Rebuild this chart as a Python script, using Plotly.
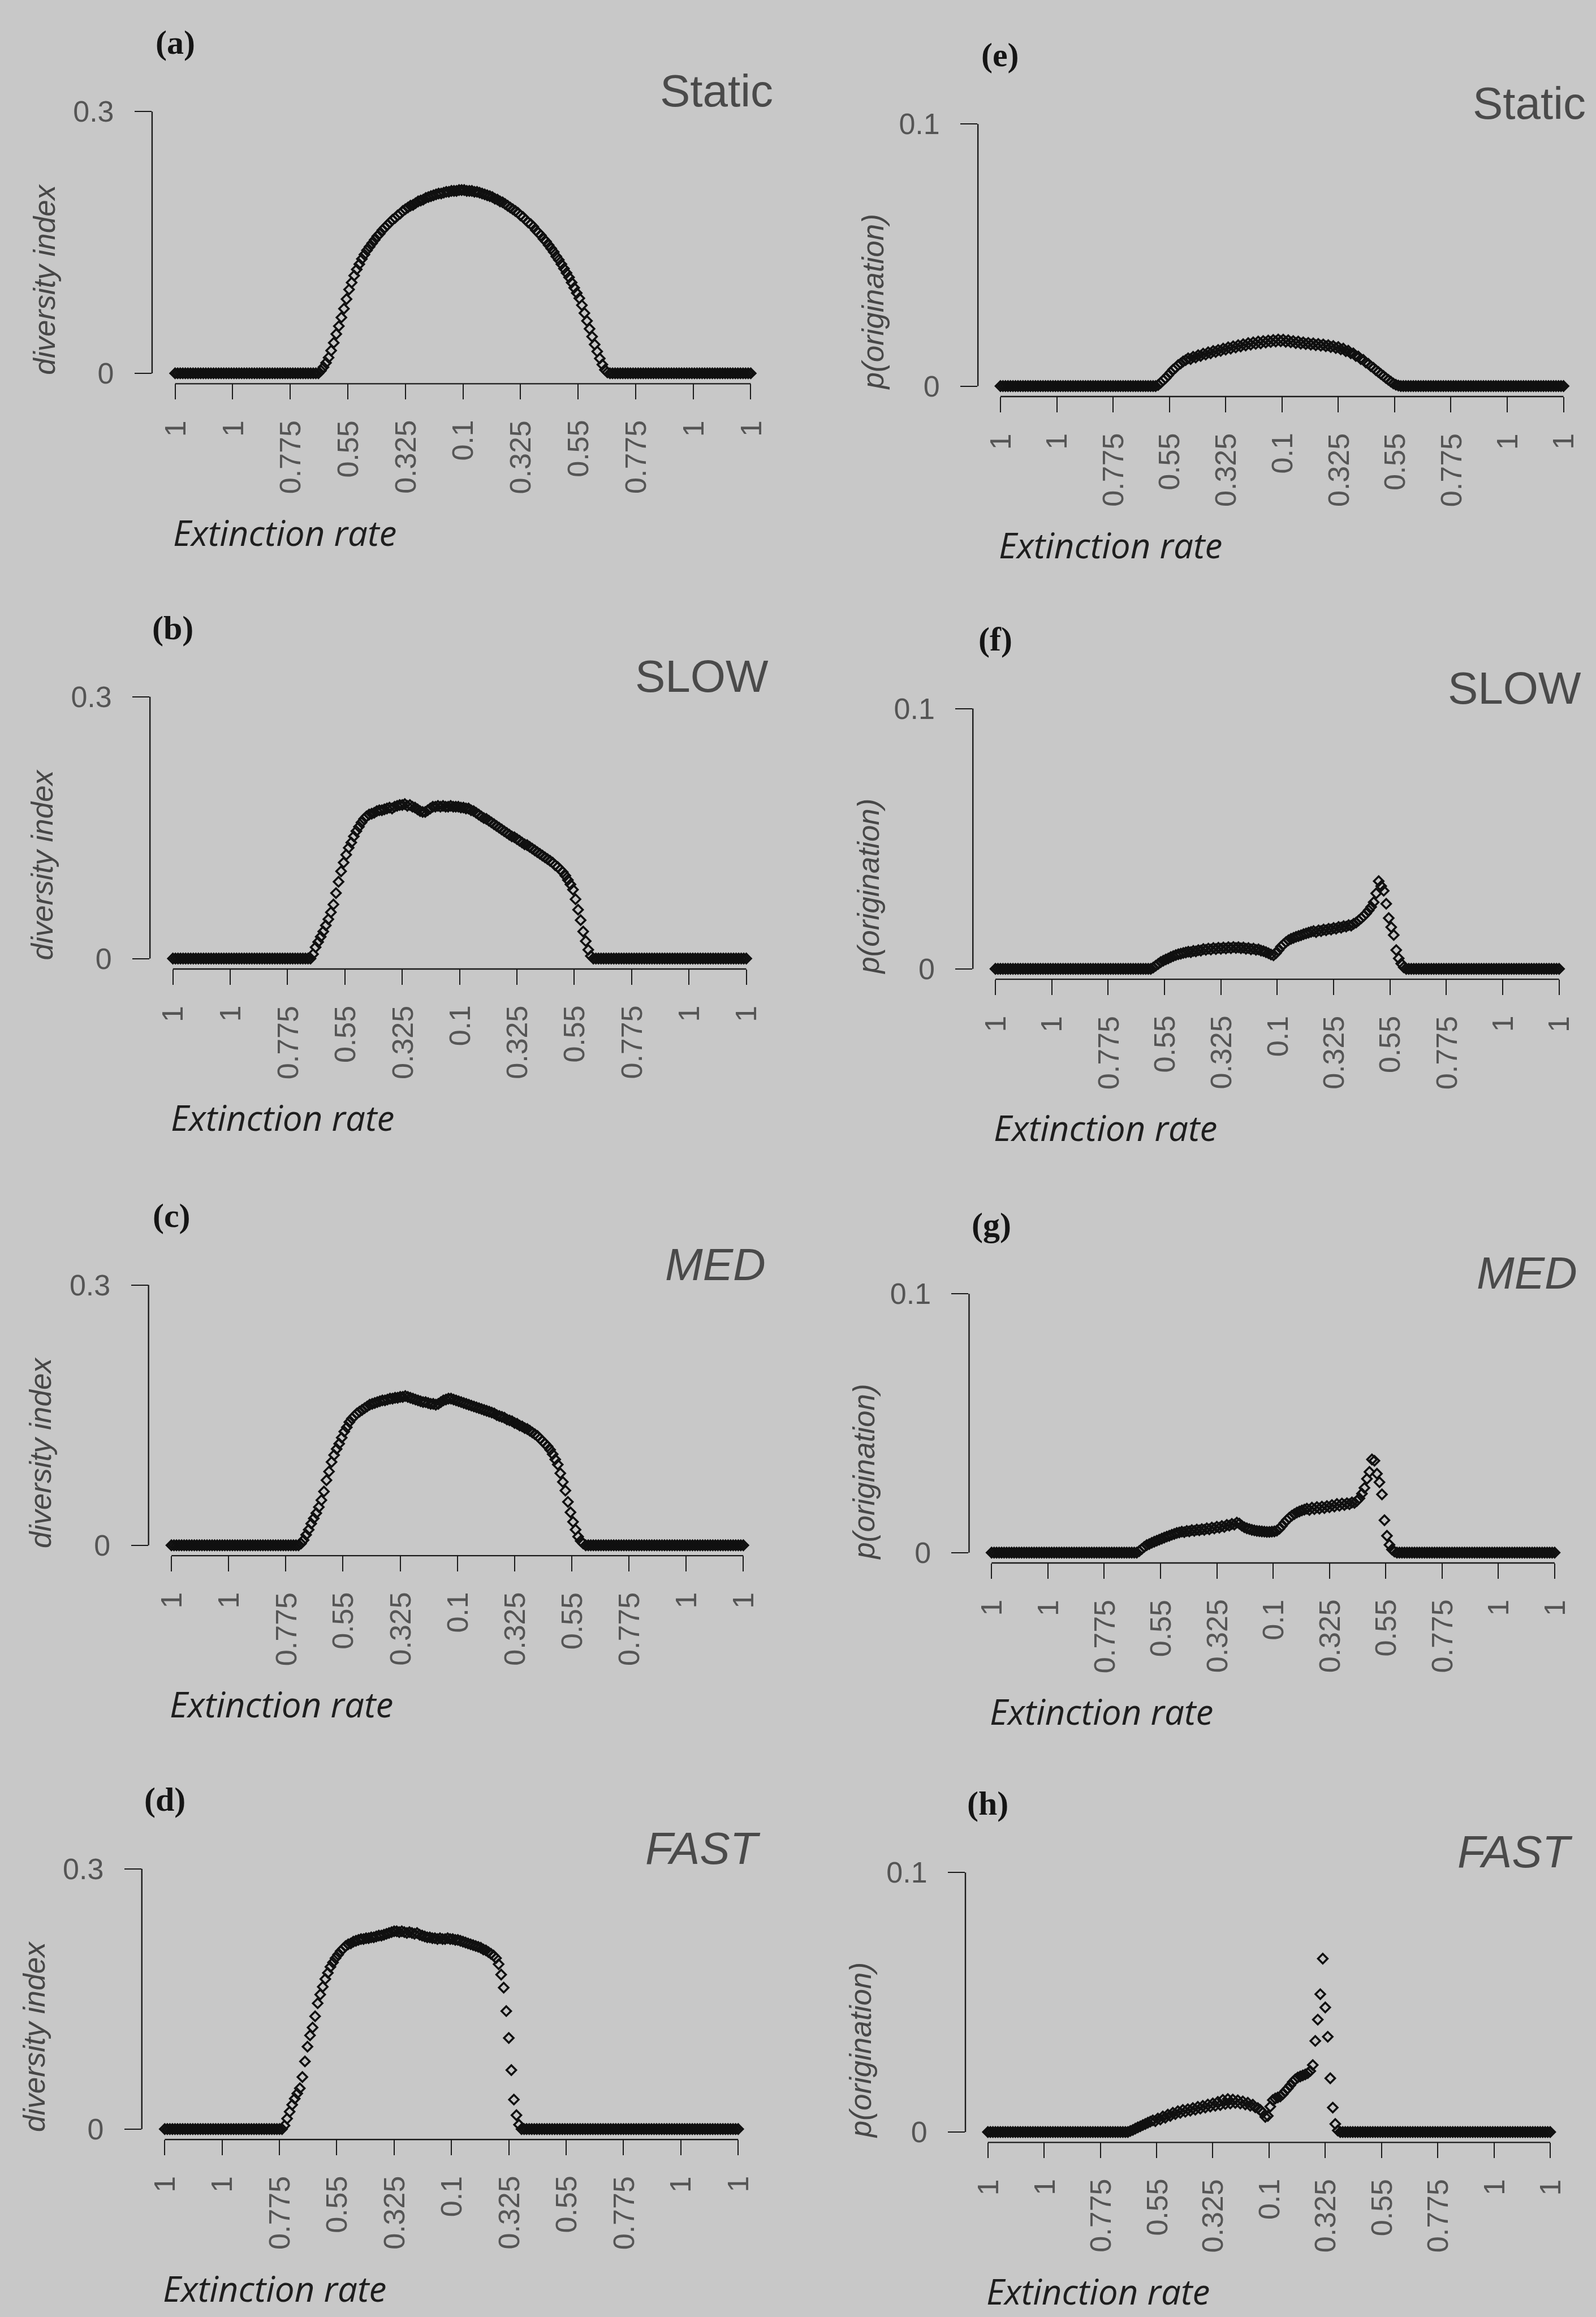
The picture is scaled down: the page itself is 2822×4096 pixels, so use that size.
import plotly.graph_objects as go

# ---------------- data ----------------
tick_positions = [0, 22.5, 45, 67.5, 90, 112.5, 135, 157.5, 180, 202.5, 225]
tick_labels = ["1", "1", "0.775", "0.55", "0.325", "0.1", "0.325", "0.55", "0.775", "1", "1"]
div_ticks = [0, 0.3]
div_tick_labels = ["0", "0.3"]
orig_ticks = [0, 0.1]
orig_tick_labels = ["0", "0.1"]

# (a) diversity index, Static
static_div = [
    0,0,0,0,0,0,0,0,0,0, 0,0,0,0,0,0,0,0,0,0, 0,0,0,0,0,0,0,0,0,0,
    0,0,0,0,0,0,0,0,0,0, 0,0,0,0,0,0,0,0,0,0, 0,0,0,0,0,0,0,
    0.003,0.007,0.012,0.018,0.026,0.035,0.045,0.054,0.064,0.074,
    0.085,0.096,0.104,0.112,0.119,0.125,0.131,0.136,0.141,0.145,
    0.149,0.153,0.157,0.160,0.164,0.167,0.170,0.173,0.176,0.178,
    0.181,0.183,0.186,0.188,0.190,0.192,0.193,0.195,0.197,0.198,
    0.199,0.201,0.202,0.203,0.204,0.205,0.206,0.206,0.207,0.208,
    0.208,0.209,0.209,0.209,0.210,0.210,0.210,0.209,0.209,0.209,
    0.208,0.208,0.207,0.206,0.205,0.204,0.203,0.202,0.200,0.199,
    0.197,0.196,0.194,0.192,0.190,0.188,0.186,0.184,0.181,0.179,
    0.176,0.173,0.171,0.168,0.164,0.161,0.158,0.154,0.151,0.147,
    0.143,0.139,0.134,0.130,0.125,0.120,0.115,0.110,0.104,0.098,
    0.092,0.086,0.078,0.069,0.060,0.051,0.042,0.033,0.025,0.017,
    0.010,0.004,0.001,
    0,0,0,0,0,0,0,0,0,0, 0,0,0,0,0,0,0,0,0,0, 0,0,0,0,0,0,0,0,0,0,
    0,0,0,0,0,0,0,0,0,0, 0,0,0,0,0,0,0,0,0,0, 0,0,0,0,0,0,
]

# (b) diversity index, SLOW
slow_div = [
    0,0,0,0,0,0,0,0,0,0, 0,0,0,0,0,0,0,0,0,0, 0,0,0,0,0,0,0,0,0,0,
    0,0,0,0,0,0,0,0,0,0, 0,0,0,0,0,0,0,0,0,0, 0,0,0,0,0,
    0.005,0.013,0.019,0.025,0.031,0.038,0.045,0.053,0.062,0.075,
    0.088,0.100,0.110,0.119,0.127,0.133,0.140,0.146,0.151,0.156,
    0.160,0.163,0.165,0.166,0.167,0.169,0.170,0.170,0.171,0.172,
    0.173,0.172,0.174,0.175,0.176,0.176,0.177,0.175,0.176,0.174,
    0.173,0.171,0.169,0.168,0.168,0.170,0.172,0.174,0.174,0.175,
    0.174,0.175,0.174,0.174,0.175,0.174,0.174,0.174,0.173,0.173,
    0.172,0.172,0.170,0.169,0.167,0.165,0.163,0.161,0.160,0.158,
    0.156,0.154,0.152,0.150,0.148,0.146,0.144,0.142,0.140,0.139,
    0.137,0.135,0.133,0.131,0.130,0.128,0.126,0.124,0.122,0.120,
    0.118,0.116,0.114,0.112,0.110,0.107,0.105,0.102,0.099,0.095,
    0.090,0.085,0.079,0.068,0.056,0.044,0.031,0.020,0.010,0.003,
    0,0,0,0,0,0,0,0,0,0, 0,0,0,0,0,0,0,0,0,0, 0,0,0,0,0,0,0,0,0,0,
    0,0,0,0,0,0,0,0,0,0, 0,0,0,0,0,0,0,0,0,0, 0,0,0,0,0,0,0,0,0,0,
    0,
]

# (c) diversity index, MED
med_div = [
    0,0,0,0,0,0,0,0,0,0, 0,0,0,0,0,0,0,0,0,0, 0,0,0,0,0,0,0,0,0,0,
    0,0,0,0,0,0,0,0,0,0, 0,0,0,0,0,0,0,0,0,0, 0,
    0.002,0.006,0.012,0.018,0.025,0.031,0.037,0.044,0.052,0.062,
    0.075,0.085,0.096,0.104,0.111,0.117,0.124,0.131,0.136,0.142,
    0.146,0.149,0.152,0.154,0.156,0.158,0.160,0.162,0.163,0.164,
    0.165,0.166,0.167,0.167,0.168,0.169,0.169,0.170,0.170,0.171,
    0.171,0.172,0.171,0.170,0.169,0.168,0.167,0.166,0.165,0.165,
    0.164,0.163,0.163,0.162,0.163,0.165,0.167,0.168,0.169,0.169,
    0.168,0.167,0.166,0.165,0.164,0.163,0.162,0.161,0.160,0.159,
    0.158,0.157,0.156,0.155,0.154,0.153,0.152,0.150,0.149,0.148,
    0.147,0.145,0.144,0.143,0.141,0.140,0.138,0.137,0.135,0.134,
    0.132,0.130,0.128,0.126,0.123,0.120,0.117,0.114,0.110,0.105,
    0.099,0.093,0.083,0.073,0.063,0.050,0.038,0.027,0.018,0.010,
    0.005,0.002,
    0,0,0,0,0,0,0,0,0,0, 0,0,0,0,0,0,0,0,0,0, 0,0,0,0,0,0,0,0,0,0,
    0,0,0,0,0,0,0,0,0,0, 0,0,0,0,0,0,0,0,0,0, 0,0,0,0,0,0,0,0,0,0,
    0,0,0,
]

# (d) diversity index, FAST
fast_div = [
    0,0,0,0,0,0,0,0,0,0, 0,0,0,0,0,0,0,0,0,0, 0,0,0,0,0,0,0,0,0,0,
    0,0,0,0,0,0,0,0,0,0, 0,0,0,0,0,0,0,
    0.004,0.012,0.020,0.028,0.035,0.041,0.047,0.060,0.078,0.095,
    0.108,0.117,0.130,0.145,0.155,0.164,0.173,0.180,0.187,0.192,
    0.197,0.201,0.205,0.208,0.211,0.213,0.214,0.216,0.217,0.218,
    0.219,0.219,0.220,0.220,0.221,0.221,0.222,0.223,0.223,0.224,
    0.225,0.226,0.227,0.228,0.228,0.227,0.228,0.227,0.226,0.227,
    0.226,0.225,0.226,0.224,0.223,0.222,0.221,0.221,0.220,0.220,
    0.219,0.220,0.219,0.219,0.220,0.219,0.219,0.218,0.218,0.217,
    0.216,0.215,0.214,0.213,0.212,0.211,0.210,0.209,0.207,0.206,
    0.204,0.202,0.200,0.197,0.190,0.178,0.163,0.136,0.105,0.068,
    0.034,0.016,0.005,
    0,0,0,0,0,0,0,0,0,0, 0,0,0,0,0,0,0,0,0,0, 0,0,0,0,0,0,0,0,0,0,
    0,0,0,0,0,0,0,0,0,0, 0,0,0,0,0,0,0,0,0,0, 0,0,0,0,0,0,0,0,0,0,
    0,0,0,0,0,0,0,0,0,0, 0,0,0,0,0,0,0,0,0,0, 0,0,0,0,0,0,
]

# (e) p(origination), Static
static_orig = [
    0,0,0,0,0,0,0,0,0,0, 0,0,0,0,0,0,0,0,0,0, 0,0,0,0,0,0,0,0,0,0,
    0,0,0,0,0,0,0,0,0,0, 0,0,0,0,0,0,0,0,0,0, 0,0,0,0,0,0,0,0,0,0,
    0,0,0,
    0.0004,0.0012,0.0022,0.0030,0.0041,0.0052,0.0063,0.0070,0.0080,0.0086,
    0.0094,0.0099,0.0106,0.0103,0.0112,0.0109,0.0118,0.0115,0.0124,0.0120,
    0.0129,0.0125,0.0134,0.0130,0.0138,0.0134,0.0143,0.0139,0.0148,0.0143,
    0.0152,0.0147,0.0156,0.0151,0.0160,0.0155,0.0164,0.0158,0.0167,0.0161,
    0.0170,0.0163,0.0172,0.0166,0.0174,0.0168,0.0176,0.0170,0.0178,0.0171,
    0.0177,0.0169,0.0175,0.0167,0.0172,0.0164,0.0170,0.0162,0.0167,0.0160,
    0.0165,0.0158,0.0163,0.0156,0.0161,0.0154,0.0159,0.0152,0.0156,0.0149,
    0.0153,0.0145,0.0149,0.0140,0.0143,0.0133,0.0135,0.0125,0.0125,0.0115,
    0.0113,0.0103,0.0100,0.0090,0.0085,0.0076,0.0070,0.0061,0.0054,0.0046,
    0.0039,0.0031,0.0024,0.0017,0.0010,0.0005,0.0002,
    0,0,0,0,0,0,0,0,0,0, 0,0,0,0,0,0,0,0,0,0, 0,0,0,0,0,0,0,0,0,0,
    0,0,0,0,0,0,0,0,0,0, 0,0,0,0,0,0,0,0,0,0, 0,0,0,0,0,0,0,0,0,0,
    0,0,0,0,0,0,
]

# (f) p(origination), SLOW
slow_orig = [
    0,0,0,0,0,0,0,0,0,0, 0,0,0,0,0,0,0,0,0,0, 0,0,0,0,0,0,0,0,0,0,
    0,0,0,0,0,0,0,0,0,0, 0,0,0,0,0,0,0,0,0,0, 0,0,0,0,0,0,0,0,0,0,
    0,0,0,
    0.0005,0.0012,0.0019,0.0026,0.0031,0.0036,0.0040,0.0045,0.0049,0.0053,
    0.0056,0.0058,0.0061,0.0063,0.0066,0.0064,0.0069,0.0067,0.0072,0.0070,
    0.0076,0.0073,0.0078,0.0074,0.0080,0.0076,0.0081,0.0077,0.0082,0.0078,
    0.0083,0.0079,0.0084,0.0080,0.0083,0.0079,0.0082,0.0077,0.0080,0.0075,
    0.0078,0.0073,0.0075,0.0070,0.0068,0.0064,0.0060,0.0055,0.0052,0.0060,
    0.0072,0.0085,0.0094,0.0103,0.0110,0.0115,0.0119,0.0123,0.0126,0.0129,
    0.0133,0.0136,0.0139,0.0142,0.0145,0.0141,0.0148,0.0145,0.0151,0.0148,
    0.0154,0.0151,0.0157,0.0154,0.0161,0.0158,0.0164,0.0162,0.0168,0.0166,
    0.0173,0.0178,0.0186,0.0194,0.0203,0.0213,0.0225,0.0238,0.0256,0.0290,
    0.0337,0.0318,0.0300,0.0250,0.0195,0.0160,0.0130,0.0072,0.0040,0.0020,
    0.0006,
    0,0,0,0,0,0,0,0,0,0, 0,0,0,0,0,0,0,0,0,0, 0,0,0,0,0,0,0,0,0,0,
    0,0,0,0,0,0,0,0,0,0, 0,0,0,0,0,0,0,0,0,0, 0,0,0,0,0,0,0,0,0,0,
    0,0,
]

# (g) p(origination), MED
med_orig = [
    0,0,0,0,0,0,0,0,0,0, 0,0,0,0,0,0,0,0,0,0, 0,0,0,0,0,0,0,0,0,0,
    0,0,0,0,0,0,0,0,0,0, 0,0,0,0,0,0,0,0,0,0, 0,0,0,0,0,0,0,0,0,
    0.0006,0.0014,0.0022,0.0029,0.0033,0.0038,0.0042,0.0046,0.0050,0.0054,
    0.0058,0.0062,0.0065,0.0069,0.0072,0.0076,0.0078,0.0081,0.0079,0.0084,
    0.0082,0.0087,0.0084,0.0089,0.0086,0.0091,0.0088,0.0094,0.0090,0.0097,
    0.0093,0.0100,0.0096,0.0103,0.0099,0.0107,0.0104,0.0111,0.0108,0.0116,
    0.0112,0.0104,0.0098,0.0094,0.0091,0.0088,0.0086,0.0084,0.0083,0.0082,
    0.0081,0.0080,0.0080,0.0081,0.0082,0.0085,0.0092,0.0103,0.0115,0.0126,
    0.0135,0.0143,0.0149,0.0155,0.0159,0.0163,0.0166,0.0170,0.0165,0.0174,
    0.0168,0.0176,0.0170,0.0178,0.0172,0.0180,0.0175,0.0184,0.0178,0.0188,
    0.0181,0.0190,0.0184,0.0191,0.0187,0.0194,0.0192,0.0200,0.0210,0.0228,
    0.0250,0.0285,0.0312,0.0360,0.0355,0.0305,0.0272,0.0225,0.0125,0.0065,
    0.0030,0.0012,0.0004,
    0,0,0,0,0,0,0,0,0,0, 0,0,0,0,0,0,0,0,0,0, 0,0,0,0,0,0,0,0,0,0,
    0,0,0,0,0,0,0,0,0,0, 0,0,0,0,0,0,0,0,0,0, 0,0,0,0,0,0,0,0,0,0,
    0,0,0,0,
]

# (h) p(origination), FAST
fast_orig = [
    0,0,0,0,0,0,0,0,0,0, 0,0,0,0,0,0,0,0,0,0, 0,0,0,0,0,0,0,0,0,0,
    0,0,0,0,0,0,0,0,0,0, 0,0,0,0,0,0,0,0,0,0, 0,0,0,0,0,0,0,
    0.0004,0.0008,0.0013,0.0018,0.0022,0.0027,0.0031,0.0036,0.0040,0.0045,
    0.0042,0.0052,0.0048,0.0060,0.0055,0.0067,0.0062,0.0074,0.0069,0.0080,
    0.0074,0.0085,0.0078,0.0088,0.0082,0.0092,0.0086,0.0097,0.0090,0.0101,
    0.0094,0.0106,0.0098,0.0110,0.0101,0.0116,0.0104,0.0124,0.0108,0.0127,
    0.0110,0.0125,0.0112,0.0122,0.0110,0.0118,0.0106,0.0113,0.0101,0.0105,
    0.0095,0.0092,0.0085,0.0074,0.0058,0.0062,0.0098,0.0123,0.0129,0.0133,
    0.0137,0.0146,0.0158,0.0168,0.0180,0.0193,0.0203,0.0210,0.0214,0.0218,
    0.0222,0.0227,0.0235,0.0258,0.0351,0.0433,0.0531,0.0668,0.0480,0.0367,
    0.0207,0.0094,0.0031,0.0006,
    0,0,0,0,0,0,0,0,0,0, 0,0,0,0,0,0,0,0,0,0, 0,0,0,0,0,0,0,0,0,0,
    0,0,0,0,0,0,0,0,0,0, 0,0,0,0,0,0,0,0,0,0, 0,0,0,0,0,0,0,0,0,0,
    0,0,0,0,0,0,0,0,0,0, 0,0,0,0,0,0,0,0,0,0, 0,0,0,0,0,
]

panel_letters = ["(a)", "(b)", "(c)", "(d)", "(e)", "(f)", "(g)", "(h)"]
scenario_names = ["Static", "SLOW", "MED", "FAST"]
scenario_italic = [False, False, True, True]
div_series = [static_div, slow_div, med_div, fast_div]
orig_series = [static_orig, slow_orig, med_orig, fast_orig]

# ---------------- layout geometry ----------------
W, H = 2822, 4096
S = 2822 / 1080  # preview px -> output px

def X(v):
    return v * S / W

def Y(v):
    return 1 - v * S / H

# (first tick x, last tick x, top tick y, zero y) in preview px
geom_left = [(118.5, 508, 72, 250), (117, 505, 470, 648),
             (116, 503, 870, 1047), (111.5, 499.5, 1267, 1444)]
geom_right = [(677, 1058, 80.5, 258.7), (673.6, 1055, 478, 655),
              (671, 1052, 876, 1052), (668.5, 1049, 1269.5, 1446)]

BG = "#c8c8c8"
INK = "#1a1a1a"
TICKTXT = "#555555"
TICK_FONT = dict(family="Liberation Sans, Arial, sans-serif", size=52, color=TICKTXT)

fig = go.Figure()
layout = dict(
    width=W, height=H,
    margin=dict(l=0, r=0, t=0, b=0),
    paper_bgcolor=BG, plot_bgcolor=BG,
    showlegend=False,
)
shapes = []
annotations = []

panels = []
for r in range(4):
    panels.append(dict(letter=panel_letters[r], name=scenario_names[r], ital=scenario_italic[r],
                       y=div_series[r], ticks=div_ticks, tlabels=div_tick_labels,
                       ylabel="diversity index", geom=geom_left[r], col=0))
for r in range(4):
    panels.append(dict(letter=panel_letters[4 + r], name=scenario_names[r], ital=scenario_italic[r],
                       y=orig_series[r], ticks=orig_ticks, tlabels=orig_tick_labels,
                       ylabel="p(origination)", geom=geom_right[r], col=1))

for k, p in enumerate(panels, start=1):
    sfx = "" if k == 1 else str(k)
    x0, x10, ytop, y0 = p["geom"]
    padx = 0.04 * (x10 - x0)
    pady = 0.04 * (y0 - ytop)
    ymax = p["ticks"][-1]
    xs = list(range(len(p["y"])))

    fig.add_trace(go.Scatter(
        x=xs, y=p["y"], mode="markers",
        marker=dict(symbol="diamond-open", size=13, color="#101010",
                    line=dict(width=3.5, color="#101010")),
        xaxis="x" + sfx, yaxis="y" + sfx, hoverinfo="skip",
    ))

    layout["xaxis" + sfx] = dict(
        domain=[X(x0 - padx), X(x10 + padx)],
        range=[tick_positions[0] - 0.04 * (tick_positions[-1] - tick_positions[0]),
               tick_positions[-1] + 0.04 * (tick_positions[-1] - tick_positions[0])],
        anchor="y" + sfx, showgrid=False, zeroline=False, showline=False,
        tickmode="array", tickvals=tick_positions, showticklabels=False,
        ticks="outside", ticklen=27, tickwidth=2.4, tickcolor=INK,
        fixedrange=True,
    )
    layout["yaxis" + sfx] = dict(
        domain=[Y(y0 + pady), Y(ytop - pady)],
        range=[-0.04 * ymax, 1.04 * ymax],
        anchor="x" + sfx, showgrid=False, zeroline=False, showline=False,
        tickmode="array", tickvals=p["ticks"], ticktext=p["tlabels"],
        ticks="outside", ticklen=30, tickwidth=2.4, tickcolor=INK,
        tickfont=TICK_FONT, ticklabelstandoff=26,
        fixedrange=True,
    )

    # R-style axis lines spanning only the tick range
    shapes.append(dict(type="line", xref="x" + sfx, yref="y" + sfx + " domain",
                       x0=tick_positions[0], x1=tick_positions[-1], y0=0, y1=0,
                       line=dict(color=INK, width=2.4)))
    shapes.append(dict(type="line", xref="x" + sfx + " domain", yref="y" + sfx,
                       x0=0, x1=0, y0=p["ticks"][0], y1=ymax,
                       line=dict(color=INK, width=2.4)))

    # perpendicular x tick labels, right-justified against the axis (R las=2)
    for tv, tl in zip(tick_positions, tick_labels):
        annotations.append(dict(text=tl, x=tv, xref="x" + sfx,
                                y=Y(y0 + pady + 24.5), yref="paper",
                                xanchor="center", yanchor="top", textangle=-90,
                                showarrow=False, borderpad=0, font=TICK_FONT))

    yx = x0 - padx
    # panel letter
    annotations.append(dict(text="<b>" + p["letter"] + "</b>", x=X(x0), y=Y(ytop - 47),
                            xref="paper", yref="paper", xanchor="center", yanchor="middle",
                            showarrow=False,
                            font=dict(family="Liberation Serif, Times New Roman, serif",
                                      size=60, color="#151515")))
    # scenario name
    nm = "<i>" + p["name"] + "</i>" if p["ital"] else p["name"]
    annotations.append(dict(text=nm, x=X(x10 + 16), y=Y(ytop - 14),
                            xref="paper", yref="paper", xanchor="right", yanchor="middle",
                            showarrow=False,
                            font=dict(family="Liberation Sans, Arial, sans-serif",
                                      size=80, color="#4a4a4a")))
    # y-axis title
    off = 73 if p["col"] == 0 else 71
    ylc = ytop + (114 if p["col"] == 0 else 121)
    annotations.append(dict(text="<i>" + p["ylabel"] + "</i>", x=X(yx - off), y=Y(ylc),
                            xref="paper", yref="paper", xanchor="center", yanchor="middle",
                            textangle=-90, showarrow=False,
                            font=dict(family="Liberation Sans, Arial, sans-serif",
                                      size=53, color="#474747")))
    # x-axis title
    annotations.append(dict(text="<i>Extinction rate</i>", x=X(x0 - 2), y=Y(y0 + 108),
                            xref="paper", yref="paper", xanchor="left", yanchor="middle",
                            showarrow=False,
                            font=dict(family="Open Sans, Noto Sans, sans-serif",
                                      size=62, color="#1e1e1e")))

layout["shapes"] = shapes
layout["annotations"] = annotations
fig.update_layout(**layout)
fig.write_html("out.html")
